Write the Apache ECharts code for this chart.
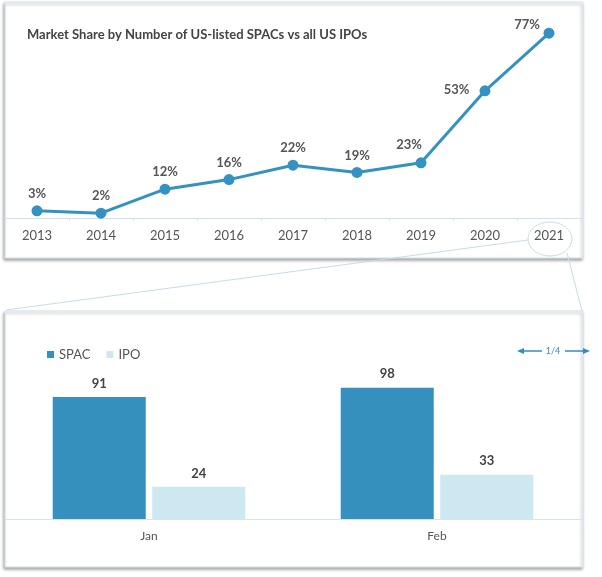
<!DOCTYPE html>
<html lang="en">
<head>
	<meta charset="UTF-8">
	<title>SPAC market share</title>
	<style>
		html, body { margin: 0; padding: 0; background: #fff; }
	</style>
</head>
<body>
	<div id="main" style="width:602px;height:577px;"></div>
</body>
</html>
<script src="https://cdn.jsdelivr.net/npm/echarts@6/dist/echarts.min.js"></script>
<script>
	// top chart: share of SPACs among US IPOs, by year
	var years = ["2013","2014","2015","2016","2017","2018","2019","2020","2021"];
	var shares = [3, 2, 12, 16, 22, 19, 23, 53, 77];

	// bottom chart: 2021 monthly counts
	var months = ["Jan", "Feb"];
	var spacCounts = [91, 98];
	var ipoCounts = [24, 33];

	var font = 'Lato, "Open Sans", sans-serif';
	var blue = '#3492c2';

	// label placement per point (only the crowded ones move)
	var labelTweak = {
		6: { position: 'top', offset: [-12, -1] },
		7: { position: 'left', distance: 10, offset: [0, -1] },
		8: { position: 'top', offset: [-22, 9] }
	};
	var lineData = shares.map(function (v, i) {
		var item = { value: v };
		if (labelTweak[i]) item.label = labelTweak[i];
		return item;
	});

	function arrow(x1, x2, y, color) {
		var dir = x2 > x1 ? 1 : -1;
		return [
			{ type: 'line', shape: { x1: x1, y1: y, x2: x2 - dir * 5, y2: y }, style: { stroke: color, lineWidth: 1.5 } },
			{ type: 'polygon', shape: { points: [[x2, y], [x2 - dir * 7, y - 3], [x2 - dir * 7, y + 3]] }, style: { fill: color } }
		];
	}

	var chart = echarts.init(document.getElementById('main'));
	var option = {
		backgroundColor: '#fff',
		animation: false,
		title: {
			text: 'Market Share by Number of US-listed SPACs vs all US IPOs',
			left: 22,
			top: 23,
			textStyle: { fontFamily: font, fontSize: 13, fontWeight: 'bold', color: '#444' }
		},
		legend: {
			data: ['SPAC', 'IPO'],
			left: 42,
			top: 343,
			icon: 'rect',
			itemWidth: 7,
			itemHeight: 7,
			itemGap: 16,
			textStyle: { fontFamily: font, fontSize: 13, color: '#555' }
		},
		graphic: [
			{ type: 'rect', z: -5, shape: { x: 5, y: 2, width: 578, height: 256 },
				style: { fill: '#fff', stroke: '#d3e5ee', lineWidth: 1, shadowBlur: 3, shadowColor: 'rgba(0,0,0,0.35)', shadowOffsetX: -1, shadowOffsetY: 2 } },
			{ type: 'rect', z: -5, shape: { x: 5, y: 311, width: 578, height: 256 },
				style: { fill: '#fff', stroke: '#d3e5ee', lineWidth: 1, shadowBlur: 3, shadowColor: 'rgba(0,0,0,0.35)', shadowOffsetX: -1, shadowOffsetY: 2 } },
			{ type: 'ellipse', z: 5, shape: { cx: 550, cy: 239, rx: 22, ry: 17 }, style: { fill: 'none', stroke: '#c6dde9', lineWidth: 1 } },
			{ type: 'line', z: 5, shape: { x1: 528, y1: 240, x2: 6, y2: 310 }, style: { stroke: '#c6dde9', lineWidth: 1 } },
			{ type: 'line', z: 5, shape: { x1: 567, y1: 253, x2: 582, y2: 311 }, style: { stroke: '#c6dde9', lineWidth: 1 } },
			{ type: 'text', z: 5, style: { text: '1/4', x: 553, y: 351, fill: '#3a8fbd', font: '9px ' + font, textAlign: 'center', textVerticalAlign: 'middle' } }
		].concat(arrow(542, 517, 351, '#2f8fbf')).concat(arrow(565, 590, 351, '#2f8fbf')),
		grid: [
			{ left: 5, top: 26, width: 576, height: 192 },
			{ left: 5, top: 385, width: 576, height: 134 }
		],
		xAxis: [
			{
				type: 'category', gridIndex: 0, data: years, boundaryGap: true,
				axisLine: { lineStyle: { color: '#cfe2eb' } },
				axisTick: { show: true, length: 3, lineStyle: { color: '#cfe2eb' } },
				axisLabel: { margin: 11, fontFamily: font, fontSize: 13, color: '#555' }
			},
			{
				type: 'category', gridIndex: 1, data: months,
				axisLine: { lineStyle: { color: '#d3e5ee' } },
				axisTick: { show: false },
				axisLabel: { margin: 11, fontFamily: font, fontSize: 12, color: '#555' }
			}
		],
		yAxis: [
			{ type: 'value', gridIndex: 0, min: 0, max: 80, show: false },
			{ type: 'value', gridIndex: 1, min: 0, max: 100, show: false }
		],
		series: [
			{
				name: 'Share', type: 'line', xAxisIndex: 0, yAxisIndex: 0,
				data: lineData,
				symbol: 'circle', symbolSize: 11,
				itemStyle: { color: blue },
				lineStyle: { color: blue, width: 3 },
				label: {
					show: true, position: 'top', distance: 5,
					formatter: '{c}%',
					fontFamily: font, fontSize: 13, fontWeight: 'bold', color: '#555'
				}
			},
			{
				name: 'SPAC', type: 'bar', xAxisIndex: 1, yAxisIndex: 1,
				data: spacCounts, barWidth: 93, barGap: '7%',
				itemStyle: { color: '#3590bd' },
				label: { show: true, position: 'top', distance: 7, fontFamily: font, fontSize: 13, fontWeight: 'bold', color: '#444' }
			},
			{
				name: 'IPO', type: 'bar', xAxisIndex: 1, yAxisIndex: 1,
				data: ipoCounts, barWidth: 93,
				itemStyle: { color: '#cde8f1' },
				label: { show: true, position: 'top', distance: 7, fontFamily: font, fontSize: 13, fontWeight: 'bold', color: '#444' }
			}
		]
	};
	chart.setOption(option);
</script>
